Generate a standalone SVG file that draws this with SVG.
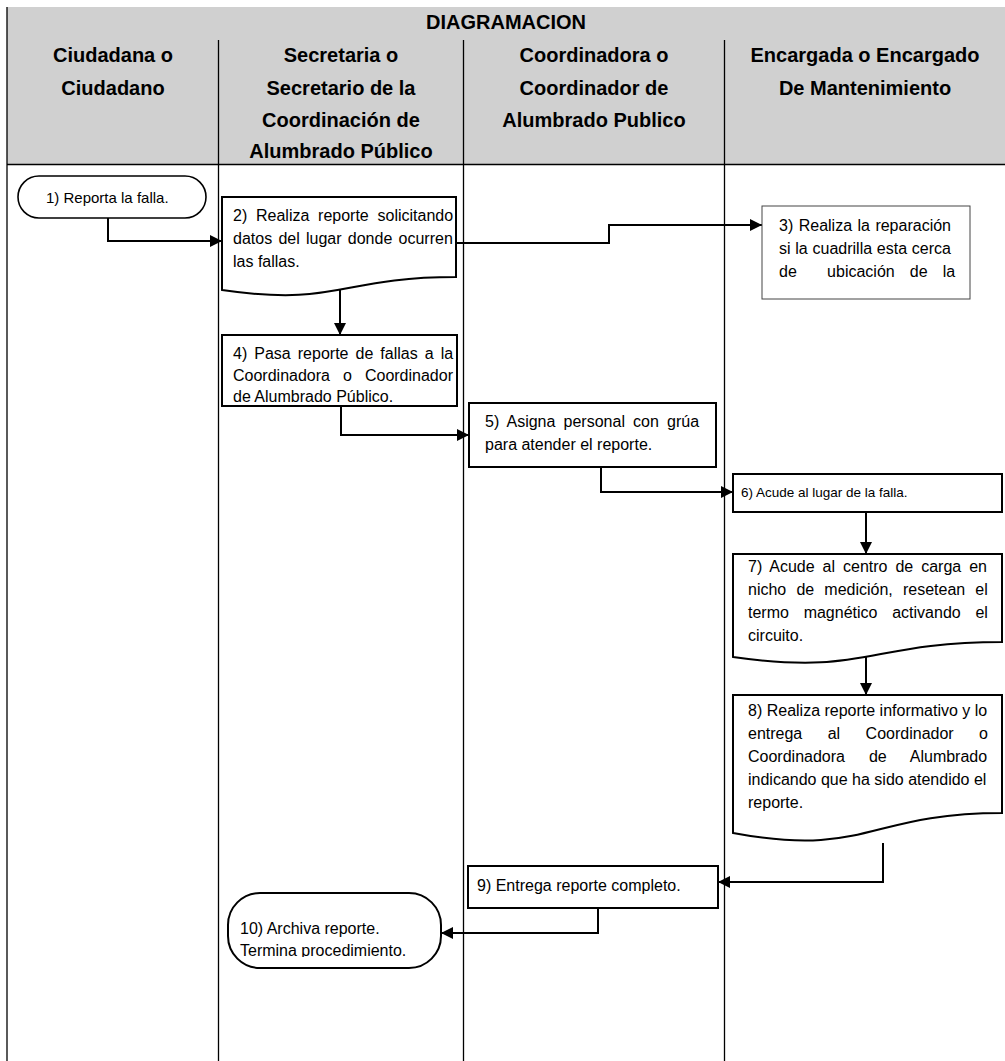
<svg xmlns="http://www.w3.org/2000/svg" width="1005" height="1061" viewBox="0 0 1005 1061">
<defs>
<style>
.t{font-family:"Liberation Sans",Arial,sans-serif;font-size:16px;fill:#000}
.h{font-family:"Liberation Sans",Arial,sans-serif;font-size:20px;font-weight:bold;fill:#000;text-anchor:middle}
.n{fill:#fff;stroke:#000;stroke-width:2}
.c{fill:none;stroke:#000;stroke-width:2;marker-end:url(#ah)}
.g{stroke:#000;stroke-width:1.3;fill:none}
</style>
<marker id="ah" markerWidth="13" markerHeight="13" refX="12" refY="6.5" orient="auto" markerUnits="userSpaceOnUse"><path d="M0,0.5 L12,6.5 L0,12.5 z" fill="#000"/></marker>
<clipPath id="clip10"><rect x="228" y="890" width="214" height="67"/></clipPath>
</defs>
<rect width="1005" height="1061" fill="#fff"/>
<g id="table">
<rect x="7" y="7" width="998" height="157" fill="#d0d0d0"/>
<line class="g" x1="7" y1="7" x2="7" y2="1061"/>
<line class="g" x1="7" y1="164.5" x2="1005" y2="164.5"/>
<line class="g" x1="218.5" y1="40" x2="218.5" y2="1061"/>
<line class="g" x1="463.5" y1="40" x2="463.5" y2="1061"/>
<line class="g" x1="724.5" y1="40" x2="724.5" y2="1061"/>
<text class="h" x="506" y="29">DIAGRAMACION</text>
<text class="h" x="113" y="62">Ciudadana o</text>
<text class="h" x="113" y="95">Ciudadano</text>
<text class="h" x="341" y="62">Secretaria o</text>
<text class="h" x="341" y="95">Secretario de la</text>
<text class="h" x="341" y="127">Coordinación de</text>
<text class="h" x="341" y="158">Alumbrado Público</text>
<text class="h" x="594" y="62">Coordinadora o</text>
<text class="h" x="594" y="95">Coordinador de</text>
<text class="h" x="594" y="127">Alumbrado Publico</text>
<text class="h" x="865" y="62">Encargada o Encargado</text>
<text class="h" x="865" y="95">De Mantenimiento</text>
</g>
<g id="connectors">
<path class="c" d="M108,218 V241 H222"/>
<path class="c" d="M456,243 H609 V225 H762"/>
<path class="c" d="M340,290 V335"/>
<path class="c" d="M341,406 V435 H469"/>
<path class="c" d="M601,467 V492 H733"/>
<path class="c" d="M866,512 V554"/>
<path class="c" d="M866,657 V695"/>
<path class="c" d="M883,843 V882 H718"/>
<path class="c" d="M598,908 V933 H441"/>
</g>
<g id="n1">
<rect class="n" x="18" y="176" width="188" height="42" rx="21" style="stroke-width:1.6"/>
<text class="t" x="46" y="203" style="font-size:15px">1) Reporta la falla.</text>
</g>
<g id="n2">
<path class="n" d="M222,197 H456 V277 C339,277 339,307 222,290 Z"/>
<text class="t" x="233" y="221" style="word-spacing:4.3px">2) Realiza reporte solicitando</text>
<text class="t" x="233" y="244" style="word-spacing:1.8px">datos del lugar donde ocurren</text>
<text class="t" x="233" y="267">las fallas.</text>
</g>
<g id="n3">
<rect x="762" y="206" width="208" height="93" fill="#fff" stroke="#444" stroke-width="1"/>
<text class="t" x="779" y="231" style="word-spacing:1px">3) Realiza la reparación</text>
<text class="t" x="779" y="254" style="word-spacing:0.3px">si la cuadrilla esta cerca</text>
<text class="t" x="779" y="277" xml:space="preserve" style="word-spacing:10.7px">de  ubicación de la</text>
</g>
<g id="n4">
<rect class="n" x="222" y="335" width="235" height="71"/>
<text class="t" x="233" y="359" style="word-spacing:2.6px">4) Pasa reporte de fallas a la</text>
<text class="t" x="233" y="381" style="word-spacing:8.6px">Coordinadora o Coordinador</text>
<text class="t" x="233" y="402">de Alumbrado Público.</text>
</g>
<g id="n5">
<rect class="n" x="469" y="403" width="247" height="64"/>
<text class="t" x="485" y="427" style="word-spacing:3.7px">5) Asigna personal con grúa</text>
<text class="t" x="485" y="450">para atender el reporte.</text>
</g>
<g id="n6">
<rect class="n" x="733" y="474" width="269" height="38"/>
<text class="t" x="741" y="497" style="font-size:13.5px">6) Acude al lugar de la falla.</text>
</g>
<g id="n7">
<path class="n" d="M733,554 H1002 V642 C867,642 867,676 733,657 Z"/>
<text class="t" x="748" y="572" style="word-spacing:3.5px">7) Acude al centro de carga en</text>
<text class="t" x="748" y="595" style="word-spacing:5.7px">nicho de medición, resetean el</text>
<text class="t" x="748" y="618" style="word-spacing:10.3px">termo magnético activando el</text>
<text class="t" x="748" y="641">circuito.</text>
</g>
<g id="n8">
<path class="n" d="M733,695 H1002 V813 C867,813 867,858 733,833 Z"/>
<text class="t" x="748" y="716">8) Realiza reporte informativo y lo</text>
<text class="t" x="748" y="739" style="word-spacing:21px">entrega al Coordinador o</text>
<text class="t" x="748" y="762" style="word-spacing:19.5px">Coordinadora de Alumbrado</text>
<text class="t" x="748" y="785">indicando que ha sido atendido el</text>
<text class="t" x="748" y="808">reporte.</text>
</g>
<g id="n9">
<rect class="n" x="468" y="866" width="250" height="42"/>
<text class="t" x="477" y="891">9) Entrega reporte completo.</text>
</g>
<g id="n10">
<rect class="n" x="228" y="893" width="213" height="75" rx="32"/>
<g clip-path="url(#clip10)">
<text class="t" x="240" y="934">10) Archiva reporte.</text>
<text class="t" x="240" y="956">Termina procedimiento.</text>
</g>
</g>
</svg>
